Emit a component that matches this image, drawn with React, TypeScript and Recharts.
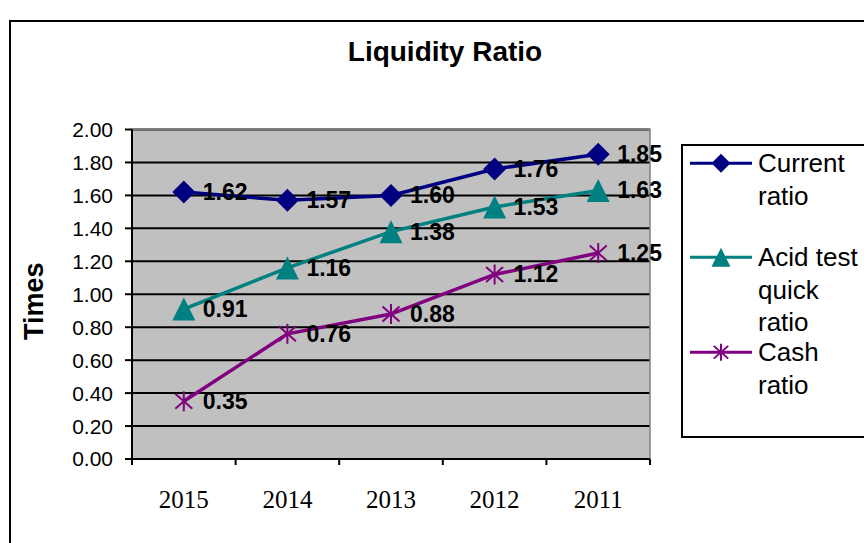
import React from 'react';
import {
  LineChart,
  Line,
  XAxis,
  YAxis,
  CartesianGrid,
  ReferenceArea,
  Legend,
  LabelList,
} from 'recharts';

// Fiscal years, newest on the right
const years = ['2015', '2014', '2013', '2012', '2011'];
const currentRatio = [1.62, 1.57, 1.6, 1.76, 1.85];
const acidTestRatio = [0.91, 1.16, 1.38, 1.53, 1.63];
const cashRatio = [0.35, 0.76, 0.88, 1.12, 1.25];
const yTicks = [0, 0.2, 0.4, 0.6, 0.8, 1.0, 1.2, 1.4, 1.6, 1.8, 2.0];

const data = years.map((year, i) => ({
  year,
  current: currentRatio[i],
  acid: acidTestRatio[i],
  cash: cashRatio[i],
}));

type Shape = 'diamond' | 'triangle' | 'star';

const series: { key: string; name: string; color: string; shape: Shape }[] = [
  { key: 'current', name: 'Current ratio', color: '#000080', shape: 'diamond' },
  { key: 'acid', name: 'Acid test quick ratio', color: '#008080', shape: 'triangle' },
  { key: 'cash', name: 'Cash ratio', color: '#800080', shape: 'star' },
];

const SANS = '"Liberation Sans", Arial, sans-serif';
const SERIF = '"Liberation Serif", "Times New Roman", serif';
const X_TICK_SIZE = 6;
const X_TICK_MARGIN = 20;

function Marker({ shape, cx, cy, color, r }: { shape: Shape; cx: number; cy: number; color: string; r: number }) {
  if (shape === 'diamond') {
    return (
      <polygon
        points={`${cx},${cy - r} ${cx + r},${cy} ${cx},${cy + r} ${cx - r},${cy}`}
        fill={color}
      />
    );
  }
  if (shape === 'triangle') {
    return (
      <polygon
        points={`${cx},${cy - r} ${cx + r},${cy + r} ${cx - r},${cy + r}`}
        fill={color}
      />
    );
  }
  const d = r * 0.85;
  const e = r * 0.75;
  return (
    <g stroke={color} strokeWidth={2}>
      <line x1={cx} y1={cy - r} x2={cx} y2={cy + r} />
      <line x1={cx - d} y1={cy - e} x2={cx + d} y2={cy + e} />
      <line x1={cx - d} y1={cy + e} x2={cx + d} y2={cy - e} />
    </g>
  );
}

function YearTick(props: any) {
  const { x, y, payload, width, visibleTicksCount, index } = props;
  const half =
    payload && typeof payload.offset === 'number' && payload.offset > 0
      ? payload.offset
      : width / visibleTicksCount / 2;
  const axisY = y - X_TICK_SIZE - X_TICK_MARGIN;
  return (
    <g>
      <line x1={x - half} y1={axisY} x2={x - half} y2={axisY + X_TICK_SIZE} stroke="#000" strokeWidth={2} />
      {index === visibleTicksCount - 1 && (
        <line x1={x + half} y1={axisY} x2={x + half} y2={axisY + X_TICK_SIZE} stroke="#000" strokeWidth={2} />
      )}
      <text x={x} y={axisY + 49} textAnchor="middle" fontFamily={SERIF} fontSize={25} fill="#000">
        {payload.value}
      </text>
    </g>
  );
}

function YTitle(props: any) {
  const vb = props.viewBox || {};
  const cx = vb.x + 34;
  const cy = vb.y + vb.height / 2 + 7;
  return (
    <text
      x={cx}
      y={cy}
      transform={`rotate(-90, ${cx}, ${cy})`}
      textAnchor="middle"
      dominantBaseline="central"
      fontFamily={SANS}
      fontWeight="bold"
      fontSize={27}
      fill="#000"
    >
      Times
    </text>
  );
}

function ValueLabel(props: any) {
  const { x, y, value } = props;
  if (x == null || y == null) return null;
  return (
    <text x={x + 19} y={y + 8} fontFamily={SANS} fontWeight="bold" fontSize={23} fill="#000">
      {Number(value).toFixed(2)}
    </text>
  );
}

// Gaps above each legend entry
const legendGaps = [1, 29, -2.5];

function LegendBox(props: any) {
  const payload = props.payload || [];
  return (
    <div style={{ fontFamily: SANS, fontSize: 26, lineHeight: '32.5px', color: '#000' }}>
      {series.map((s, i) => {
        const entry = payload.find((p: any) => p.dataKey === s.key);
        const label = entry ? entry.value : s.name;
        return (
          <div key={s.key} style={{ display: 'flex', alignItems: 'flex-start', marginTop: legendGaps[i] }}>
            <svg width={62} height={32.5} style={{ marginLeft: 7, flex: 'none' }}>
              <line x1={0} y1={16.25} x2={62} y2={16.25} stroke={s.color} strokeWidth={3} />
              <Marker shape={s.shape} cx={31} cy={16.25} color={s.color} r={s.shape === 'star' ? 8.5 : 9.5} />
            </svg>
            <div style={{ marginLeft: 6, width: 106 }}>{label}</div>
          </div>
        );
      })}
    </div>
  );
}

export default function App() {
  return (
    <div style={{ position: 'absolute', left: 0, top: 0, width: 864, height: 543, background: '#fff', overflow: 'hidden' }}>
      <div
        style={{
          position: 'absolute',
          left: 9,
          top: 20,
          width: 900,
          height: 600,
          border: '2px solid #000',
          boxSizing: 'border-box',
          pointerEvents: 'none',
        }}
      />
      <div
        style={{
          position: 'absolute',
          left: 245,
          width: 400,
          top: 38,
          textAlign: 'center',
          fontFamily: SANS,
          fontWeight: 'bold',
          fontSize: 28,
          lineHeight: '28px',
          color: '#000',
        }}
      >
        Liquidity Ratio
      </div>
      <div style={{ position: 'absolute', left: 0, top: 0 }}>
        <LineChart width={864} height={543} data={data} margin={{ top: 129.5, right: 214, bottom: 24, left: 0 }}>
          <CartesianGrid vertical={false} fill="#C0C0C0" fillOpacity={1} stroke="#000" strokeWidth={2} />
          <ReferenceArea y1={0} y2={2} fill="none" stroke="#808080" strokeWidth={1.5} />
          <XAxis
            dataKey="year"
            scale="band"
            height={60}
            interval={0}
            tickLine={false}
            tickSize={X_TICK_SIZE}
            tickMargin={X_TICK_MARGIN}
            axisLine={{ stroke: '#000', strokeWidth: 2 }}
            tick={<YearTick />}
          />
          <YAxis
            domain={[0, 2]}
            ticks={yTicks}
            interval={0}
            width={132}
            tickFormatter={(v: number) => v.toFixed(2)}
            tick={{ fontSize: 21, fontFamily: SANS, fill: '#000' }}
            tickSize={7}
            tickMargin={12}
            axisLine={{ stroke: '#000', strokeWidth: 2 }}
            tickLine={{ stroke: '#000', strokeWidth: 2 }}
            label={<YTitle />}
          />
          {series.map((s) => (
            <Line
              key={s.key}
              dataKey={s.key}
              name={s.name}
              stroke={s.color}
              strokeWidth={3.5}
              isAnimationActive={false}
              dot={(p: any) => (
                <Marker key={`${s.key}-${p.index}`} shape={s.shape} cx={p.cx} cy={p.cy} color={s.color} r={s.shape === 'star' ? 10 : 11.5} />
              )}
              activeDot={false}
            >
              <LabelList dataKey={s.key} content={<ValueLabel />} />
            </Line>
          ))}
          <Legend
            layout="horizontal"
            align="center"
            verticalAlign="middle"
            content={<LegendBox />}
            wrapperStyle={{
              position: 'absolute',
              left: 681,
              top: 144,
              width: 200,
              height: 294,
              border: '2px solid #000',
              boxSizing: 'border-box',
              background: '#fff',
              margin: 0,
              padding: 0,
            }}
          />
        </LineChart>
      </div>
    </div>
  );
}
